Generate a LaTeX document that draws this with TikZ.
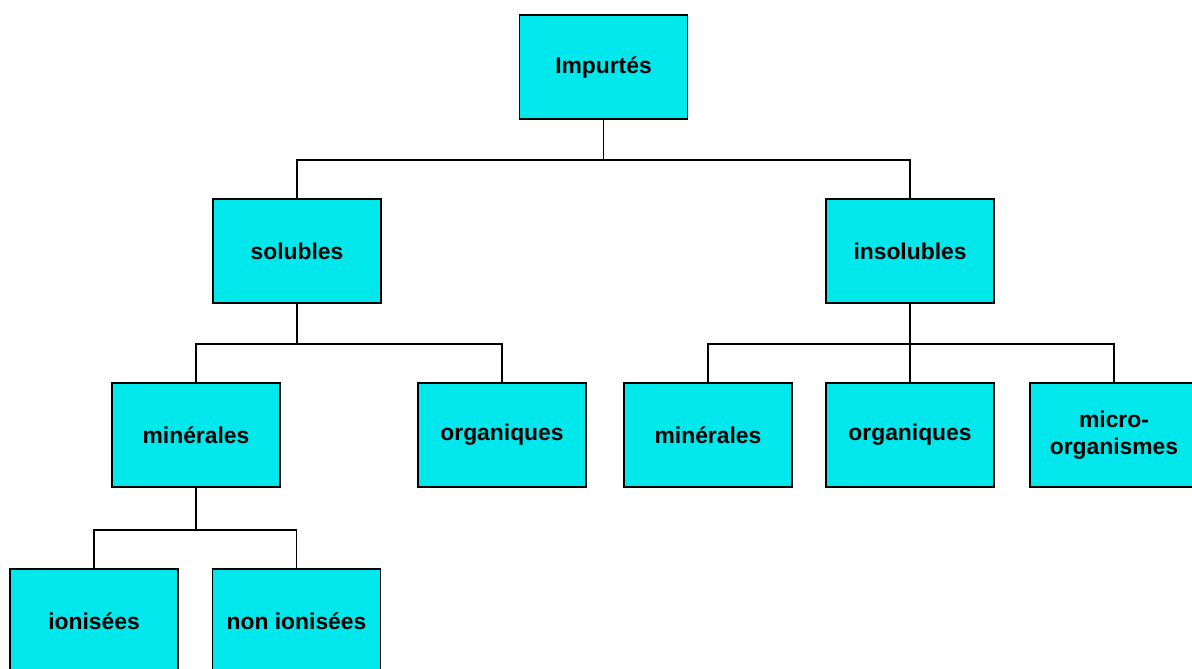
\documentclass[tikz,border=0pt]{standalone}
\usepackage{fontspec}
\setmainfont{Liberation Sans}
\usetikzlibrary{positioning, calc}

\definecolor{boxcyan}{RGB}{0,232,235}

\begin{document}
\begin{tikzpicture}[
    font=\fontsize{13}{15}\selectfont\bfseries,
    cat/.style={draw, rectangle, minimum width=3.36cm, minimum height=2.08cm,
                fill=boxcyan, line width=0.8pt, align=center, inner sep=2pt},
    link/.style={line width=0.8pt},
]

% frame of the picture
\fill[white] (0, 0) rectangle (23.84, -13.36);
\useasboundingbox (0, 0) rectangle (23.84, -13.36);

% ============================================================
% BOXES
% ============================================================

% --- root ---
\node[cat] (imp) at (12.07, -1.34) {Impurtés};

% --- level 1 ---
\node[cat] (sol) at (5.94, -5.02) {solubles};
\node[cat] (insol) at (18.2, -5.02) {insolubles};

% --- level 2 ---
\node[cat] (solmin) at (3.92, -8.7) {minérales};
\node[cat] (solorg) at (10.04, -8.7) {organiques};
\node[cat] (insmin) at (14.16, -8.7) {minérales};
\node[cat] (insorg) at (18.2, -8.7) {organiques};
\node[cat] (insmicro) at (22.28, -8.7) {micro-\\organismes};

% --- level 3 ---
\node[cat] (ion) at (1.88, -12.42) {ionisées};
\node[cat] (nonion) at (5.93, -12.42) {non ionisées};

% ============================================================
% CONNECTORS (elbow lines on a rail)
% ============================================================
\coordinate (rail1) at (0, -3.2);
\coordinate (rail2) at (0, -6.88);
\coordinate (rail3) at (0, -10.6);

\draw[link] (imp.south) -- (imp.south |- rail1) -| (sol.north);
\draw[link] (imp.south |- rail1) -| (insol.north);

\draw[link] (sol.south) -- (sol.south |- rail2) -| (solmin.north);
\draw[link] (sol.south |- rail2) -| (solorg.north);

\draw[link] (insol.south) -- (insol.south |- rail2) -| (insmin.north);
\draw[link] (insol.south |- rail2) -| (insmicro.north);
\draw[link] (insol.south |- rail2) -- (insorg.north);

\draw[link] (solmin.south) -- (solmin.south |- rail3) -| (ion.north);
\draw[link] (solmin.south |- rail3) -| (nonion.north);

\end{tikzpicture}
\end{document}
